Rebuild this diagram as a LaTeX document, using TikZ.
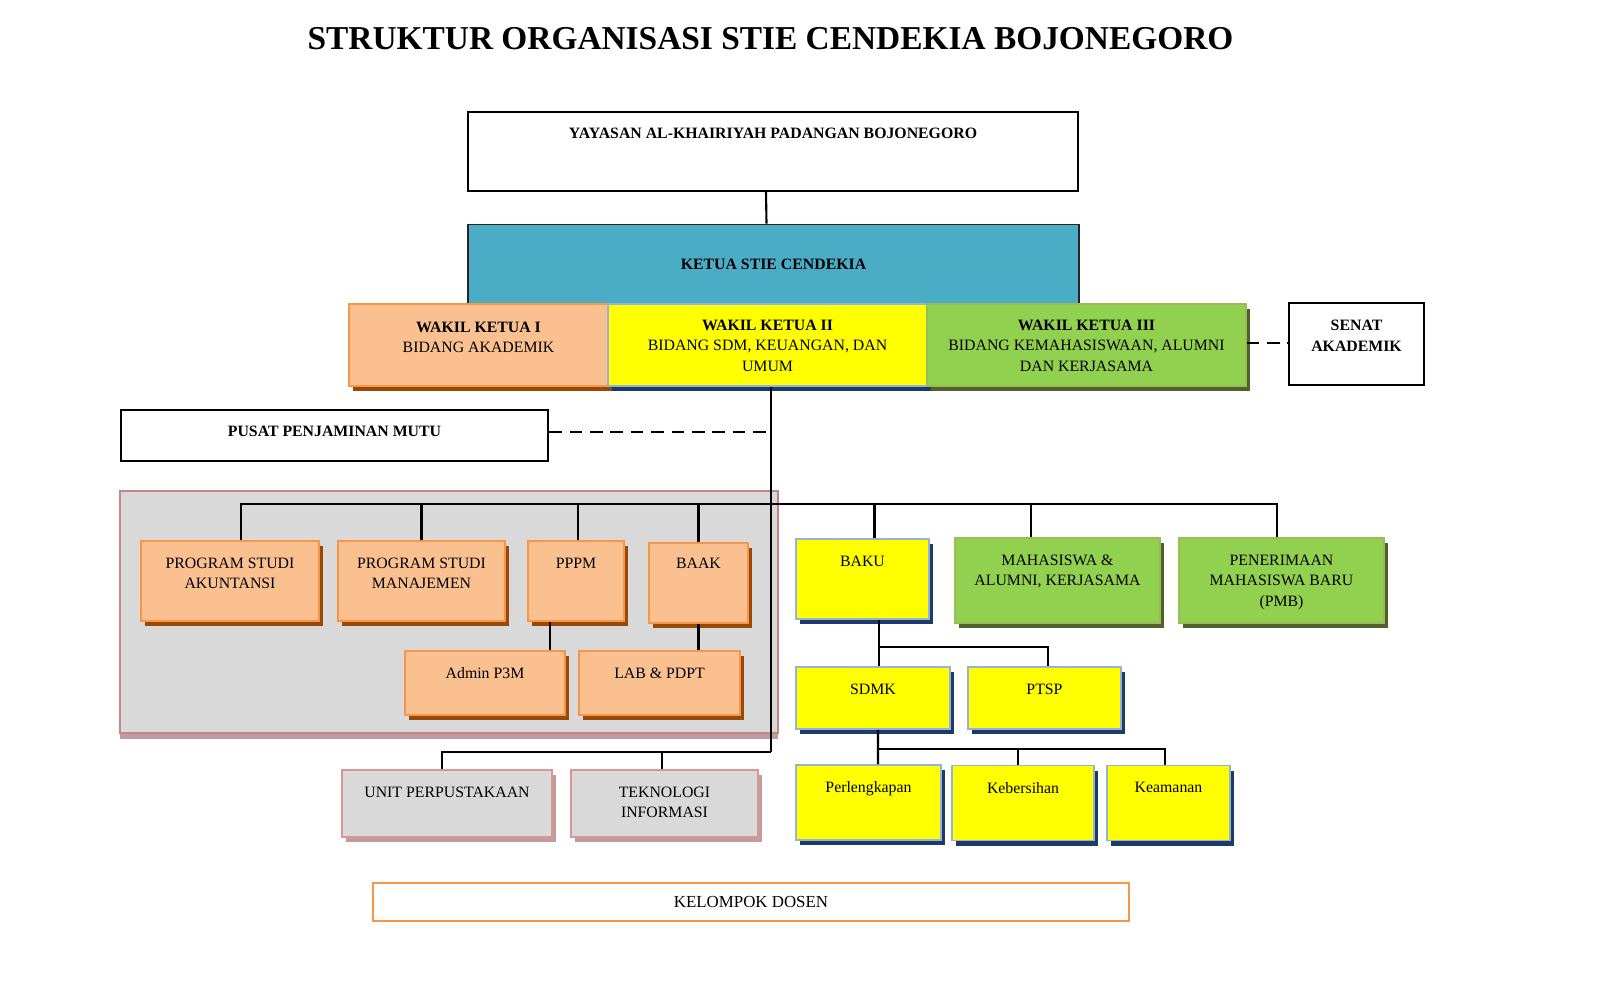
\documentclass[tikz,border=0pt]{standalone}
\usepackage{fontspec}
\setmainfont{Liberation Serif}
\usepackage{tikz}
\usetikzlibrary{positioning, calc, shadows}
\definecolor{fsblue}{HTML}{4BACC6}
\definecolor{fspeach}{HTML}{FAC090}
\definecolor{fsorange}{HTML}{F79646}
\definecolor{fsbrown}{HTML}{984807}
\definecolor{fsyellow}{HTML}{FFFF00}
\definecolor{fssky}{HTML}{95B3D7}
\definecolor{fsnavy}{HTML}{1F3A68}
\definecolor{fsgreen}{HTML}{92D050}
\definecolor{fsleaf}{HTML}{9BBB59}
\definecolor{fsolive}{HTML}{4F6228}
\definecolor{fsgray}{HTML}{D9D9D9}
\definecolor{fsrose}{HTML}{D99694}
\definecolor{fsrosedk}{HTML}{C29C9D}

\begin{document}
\begin{tikzpicture}[
  x=1cm, y=1cm,
  font=\fontsize{4.5}{5.8}\selectfont,
  line cap=butt, line join=miter,
  box/.style 2 args={minimum width=#1cm, minimum height=#2cm, inner sep=0pt},
  wbox/.style={draw=black, line width=0.7pt, fill=white},
  kbox/.style={draw=black!85, line width=0.5pt, fill=fsblue},
  obox/.style={draw=fsorange, line width=0.4pt, fill=fspeach,
               drop shadow={shadow xshift=0.04cm, shadow yshift=-0.05cm, fill=fsbrown, opacity=1}},
  ybox/.style={draw=fssky, line width=0.5pt, fill=fsyellow,
               drop shadow={shadow xshift=0.04cm, shadow yshift=-0.05cm, fill=fsnavy, opacity=1}},
  gbox/.style={draw=fsleaf, line width=0.4pt, fill=fsgreen,
               drop shadow={shadow xshift=0.04cm, shadow yshift=-0.05cm, fill=fsolive, opacity=1}},
  rbox/.style={draw=fsrose, line width=0.5pt, fill=fsgray,
               drop shadow={shadow xshift=0.04cm, shadow yshift=-0.05cm, fill=fsrosedk, opacity=1}},
  panel/.style={draw=fsrose!90!black, line width=0.5pt, fill=fsgray,
               drop shadow={shadow xshift=0.0cm, shadow yshift=-0.06cm, fill=fsrosedk, opacity=1}},
  toptext/.style={anchor=north, align=center, inner sep=0pt},
  link/.style={draw=black, line width=0.6pt},
  dashlink/.style={draw=black, line width=0.7pt, dash pattern=on 3.6pt off 2.2pt},
]
\useasboundingbox[fill=white] (0,0) rectangle (16,10.06);

\node[font=\fontsize{9.5}{11}\selectfont\bfseries] (title) at (7.705,9.67)
  {STRUKTUR ORGANISASI STIE CENDEKIA BOJONEGORO};

% gray panel behind the academic units
\draw[panel] (1.20,2.73) rectangle (7.78,5.15);

% connectors
\coordinate (tr) at (7.71,2.54);
\coordinate (bus) at (7.71,5.02);
\coordinate (j1) at (8.79,3.59);
\coordinate (j2) at (8.78,2.57);

% top
\node[wbox, box={6.10}{0.79}] (yay) at (7.73,8.545) {};
\node[kbox, box={6.11}{0.79}, font=\fontsize{4.5}{5.8}\selectfont\bfseries] (ket) at (7.735,7.42)
  {KETUA STIE CENDEKIA};
\draw[link] ([xshift=-0.07cm]yay.south) -- ([xshift=-0.07cm]ket.north);
\node[toptext, font=\fontsize{4.5}{5.8}\selectfont\bfseries] (yay-t) at ([yshift=-0.17cm]yay.north)
  {YAYASAN AL-KHAIRIYAH PADANGAN BOJONEGORO};

% wakil ketua
\node[obox, box={2.59}{0.82}] (wk1) at (4.785,6.61) {};
\node[ybox, box={3.19}{0.82}] (wk2) at (7.675,6.61) {};
\node[gbox, box={3.19}{0.82}] (wk3) at (10.865,6.61) {};
\node[wbox, box={1.35}{0.82}] (sen) at (13.565,6.62) {};
\node[toptext] (wk1-t) at ([yshift=-0.18cm]wk1.north) {\textbf{WAKIL KETUA I}\\BIDANG AKADEMIK};
\node[toptext] (wk2-t) at ([yshift=-0.16cm]wk2.north) {\textbf{WAKIL KETUA II}\\BIDANG SDM, KEUANGAN, DAN\\UMUM};
\node[toptext] (wk3-t) at ([yshift=-0.16cm]wk3.north) {\textbf{WAKIL KETUA III}\\BIDANG KEMAHASISWAAN, ALUMNI\\DAN KERJASAMA};
\node[toptext, font=\fontsize{4.5}{5.9}\selectfont\bfseries] (sen-t) at ([yshift=-0.18cm]sen.north) {SENAT\\AKADEMIK};
\draw[dashlink] ([yshift=0.02cm]wk3.east) -- ([yshift=0.02cm]wk3.east -| sen.west);

% quality assurance
\node[wbox, box={4.27}{0.51}] (ppm) at (3.345,5.705) {};
\node[toptext, font=\fontsize{4.5}{5.8}\selectfont\bfseries] (ppm-t) at ([yshift=-0.17cm]ppm.north) {PUSAT PENJAMINAN MUTU};

% trunk and buses
\draw[link] ([xshift=0.035cm]wk2.south) -- (tr);
\draw[dashlink] ([yshift=0.035cm]ppm.east) -- ([yshift=0.035cm]ppm.east -| tr);

% units in the panel
\node[obox, box={1.78}{0.80}] (aku) at (2.30,4.25) {};
\node[obox, box={1.67}{0.80}] (man) at (4.215,4.25) {};
\node[obox, box={0.96}{0.80}] (pppm) at (5.76,4.25) {};
\node[obox, box={0.99}{0.80}] (baak) at (6.985,4.23) {};
\node[obox, box={1.60}{0.64}] (adm) at (4.85,3.23) {};
\node[obox, box={1.61}{0.64}] (lab) at (6.595,3.23) {};

% right branch
\node[ybox, box={1.33}{0.80}] (baku) at (8.625,4.27) {};
\node[gbox, box={2.05}{0.85}] (mhs) at (10.575,4.255) {};
\node[gbox, box={2.05}{0.85}] (pmb) at (12.815,4.255) {};
\node[ybox, box={1.54}{0.62}] (sdmk) at (8.73,3.08) {};
\node[ybox, box={1.53}{0.62}] (ptsp) at (10.445,3.08) {};
\node[ybox, box={1.45}{0.75}] (per) at (8.685,2.035) {};
\node[ybox, box={1.42}{0.75}] (keb) at (10.23,2.03) {};
\node[ybox, box={1.23}{0.75}] (kea) at (11.685,2.03) {};

% lower units
\node[rbox, box={2.10}{0.67}] (perp) at (4.47,2.025) {};
\node[rbox, box={1.87}{0.67}] (ti) at (6.645,2.025) {};

% bus lines
\draw[link] ([xshift=0.11cm]aku.north) |- ([xshift=-0.045cm]pmb.north |- bus) -- ([xshift=-0.045cm]pmb.north);
\foreach \n/\dx in {man/0, pppm/0.02, baak/0, baku/0.12, mhs/-0.265} {
  \draw[link] ([xshift=\dx cm]\n.north) -- ([xshift=\dx cm]\n.north |- bus);
}
\draw[link] ([xshift=-0.26cm]pppm.south) -- ([xshift=-0.26cm]pppm.south |- adm.north);
\draw[link] (baak.south) -- (baak.south |- lab.north);
\draw[link] (tr) -| ([xshift=-0.05cm]perp.north);
\draw[link] ([xshift=-0.025cm]ti.north) -- ([xshift=-0.025cm]ti.north |- tr);
\draw[link] ([xshift=0.165cm]baku.south) -- ([xshift=0.165cm]baku.south |- sdmk.north);
\draw[link] (j1) -| ([xshift=0.035cm]ptsp.north);
\draw[link] ([xshift=0.05cm]sdmk.south) -- (j2 |- per.north);
\draw[link] (j2) -| ([xshift=-0.035cm]kea.north);
\draw[link] ([xshift=-0.05cm]keb.north) -- ([xshift=-0.05cm]keb.north |- j2);

% labels
\node[toptext] (aku-t) at ([yshift=-0.17cm]aku.north) {PROGRAM STUDI\\AKUNTANSI};
\node[toptext] (man-t) at ([yshift=-0.17cm]man.north) {PROGRAM STUDI\\MANAJEMEN};
\node[toptext] (pppm-t) at ([yshift=-0.17cm]pppm.north) {PPPM};
\node[toptext] (baak-t) at ([yshift=-0.15cm]baak.north) {BAAK};
\node[toptext] (adm-t) at ([yshift=-0.17cm]adm.north) {Admin P3M};
\node[toptext] (lab-t) at ([yshift=-0.17cm]lab.north) {LAB \& PDPT};
\node[toptext] (baku-t) at ([yshift=-0.17cm]baku.north) {BAKU};
\node[toptext] (mhs-t) at ([yshift=-0.17cm]mhs.north) {MAHASISWA \&\\ALUMNI, KERJASAMA};
\node[toptext] (pmb-t) at ([yshift=-0.17cm]pmb.north) {PENERIMAAN\\MAHASISWA BARU\\(PMB)};
\node[toptext] (sdmk-t) at ([yshift=-0.17cm]sdmk.north) {SDMK};
\node[toptext] (ptsp-t) at ([yshift=-0.17cm]ptsp.north) {PTSP};
\node[toptext] (per-t) at ([yshift=-0.17cm]per.north) {Perlengkapan};
\node[toptext] (keb-t) at ([yshift=-0.17cm]keb.north) {Kebersihan};
\node[toptext] (kea-t) at ([yshift=-0.17cm]kea.north) {Keamanan};
\node[toptext] (perp-t) at ([yshift=-0.17cm]perp.north) {UNIT PERPUSTAKAAN};
\node[toptext] (ti-t) at ([yshift=-0.17cm]ti.north) {TEKNOLOGI\\INFORMASI};

% lecturers
\node[draw=fsorange, line width=0.6pt, fill=white, box={7.56}{0.38},
      font=\fontsize{4.8}{5.8}\selectfont] (dos) at (7.51,1.04) {KELOMPOK DOSEN};
\end{tikzpicture}
\end{document}
